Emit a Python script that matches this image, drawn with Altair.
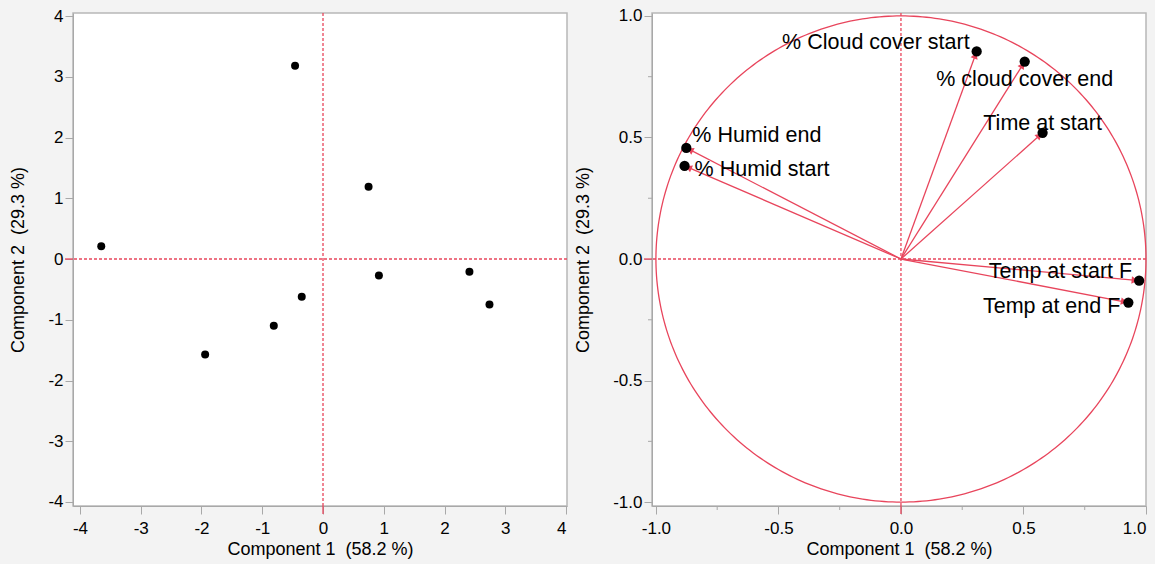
import altair as alt
import pandas as pd

RED = "#e8455c"
GRAY = "#a8a8a8"
FONT = "Liberation Sans"

# ---- Score plot (left) ----
score_x = [-3.65, -0.46, 0.75, 0.92, 2.41, 2.74, -0.35, -0.81, -1.94]
score_y = [0.21, 3.18, 1.19, -0.27, -0.21, -0.75, -0.62, -1.10, -1.57]
left_ticks = [-4, -3, -2, -1, 0, 1, 2, 3, 4]

# ---- Loading plot (right) ----
var_names = ["% Cloud cover start", "% cloud cover end", "Time at start",
             "% Humid end", "% Humid start", "Temp at start F", "Temp at end F"]
load_x = [0.309, 0.505, 0.578, -0.876, -0.883, 0.972, 0.928]
load_y = [0.854, 0.812, 0.519, 0.457, 0.383, -0.089, -0.179]
right_ticks = [-1.0, -0.5, 0.0, 0.5, 1.0]
right_minor = [-0.75, -0.25, 0.25, 0.75]

x_title = "Component 1\u00a0 (58.2 %)"
y_title = "Component 2\u00a0 (29.3 %)"

W, H = 494, 493


def axis(vals, fmt, title, lpad, tpad):
    return alt.Axis(values=vals, format=fmt, title=title, grid=False, tickSize=8,
                    labelPadding=lpad, titlePadding=tpad, domainColor=GRAY, tickColor=GRAY,
                    labelColor="black", titleColor="black", labelFont=FONT, titleFont=FONT,
                    labelFontSize=17, titleFontSize=18, titleFontWeight="normal",
                    labelExpr="replace(datum.label, '\u2212', '-')")


zero_df = pd.DataFrame({"v": [0.0]})

# Left panel
scores = pd.DataFrame({"sx": score_x, "sy": score_y})
lx_scale = alt.Scale(domain=[-4.115, 4.016], nice=False, zero=False)
ly_scale = alt.Scale(domain=[-4.066, 4.05], nice=False, zero=False)

left_pts = alt.Chart(scores).mark_circle(size=64, color="black", opacity=1).encode(
    x=alt.X("sx:Q", scale=lx_scale, axis=axis(left_ticks, "d", x_title, 6, 4)),
    y=alt.Y("sy:Q", scale=ly_scale, axis=axis(left_ticks, "d", y_title, 2, 20)),
)
left_vrule = alt.Chart(zero_df).mark_rule(color=RED, strokeDash=[3, 2], strokeWidth=1.3).encode(x="v:Q")
left_hrule = alt.Chart(zero_df).mark_rule(color=RED, strokeDash=[3, 2], strokeWidth=1.3).encode(y="v:Q")
left_xtick0 = alt.Chart(zero_df).mark_rule(color=RED, strokeWidth=1.3).encode(
    x="v:Q", y=alt.value(H), y2=alt.value(H + 8))
left_ytick0 = alt.Chart(zero_df).mark_rule(color=RED, strokeWidth=1.3).encode(
    y="v:Q", x=alt.value(-8), x2=alt.value(0))

left = alt.layer(left_vrule, left_hrule, left_xtick0, left_ytick0, left_pts).properties(width=W, height=H)

# Right panel
loads = pd.DataFrame({"name": var_names, "lx": load_x, "ly": load_y})
rx_scale = alt.Scale(domain=[-1.016, 1.0], nice=False, zero=False)
ry_scale = alt.Scale(domain=[-1.016, 1.012], nice=False, zero=False)
rX = alt.X("lx:Q", scale=rx_scale, axis=axis(right_ticks, ".1f", x_title, 6, 4))
rY = alt.Y("ly:Q", scale=ry_scale, axis=axis(right_ticks, ".1f", y_title, 2, 20))

r_vrule = alt.Chart(zero_df).mark_rule(color=RED, strokeDash=[3, 2], strokeWidth=1.3).encode(
    x=alt.X("v:Q", scale=rx_scale))
r_hrule = alt.Chart(zero_df).mark_rule(color=RED, strokeDash=[3, 2], strokeWidth=1.3).encode(
    y=alt.Y("v:Q", scale=ry_scale))
r_xtick0 = alt.Chart(zero_df).mark_rule(color=RED, strokeWidth=1.3).encode(
    x="v:Q", y=alt.value(H), y2=alt.value(H + 8))
r_ytick0 = alt.Chart(zero_df).mark_rule(color=RED, strokeWidth=1.3).encode(
    y="v:Q", x=alt.value(-8), x2=alt.value(0))
minor_df = pd.DataFrame({"m": right_minor})
r_xminor = alt.Chart(minor_df).mark_rule(color=GRAY, strokeWidth=1).encode(
    x="m:Q", y=alt.value(H), y2=alt.value(H + 4))
r_yminor = alt.Chart(minor_df).mark_rule(color=GRAY, strokeWidth=1).encode(
    y="m:Q", x=alt.value(-4), x2=alt.value(0))

circle = alt.Chart(alt.sequence(0, 361, 1, as_="deg")).transform_calculate(
    cx="cos(datum.deg*PI/180)", cy="sin(datum.deg*PI/180)"
).mark_line(color=RED, strokeWidth=1.3).encode(
    x=alt.X("cx:Q"), y=alt.Y("cy:Q"), order="deg:Q")

arrows = alt.Chart(loads).transform_calculate(z="0").mark_rule(color=RED, strokeWidth=1.3).encode(
    x="z:Q", y="z:Q", x2="lx:Q", y2="ly:Q")
heads = alt.Chart(loads).transform_calculate(
    ang="(atan2(datum.lx, datum.ly)*180/PI + 360) % 360",
    r="sqrt(datum.lx*datum.lx + datum.ly*datum.ly)",
).transform_calculate(
    hx="datum.lx - 0.022*datum.lx/datum.r",
    hy="datum.ly - 0.022*datum.ly/datum.r",
).mark_point(shape="triangle", filled=True, color=RED, size=55, opacity=1).encode(
    x="hx:Q", y="hy:Q", angle=alt.Angle("ang:Q", scale=None))
r_pts = alt.Chart(loads).mark_circle(size=105, color="black", opacity=1).encode(x=rX, y=rY)

label_specs = [
    ("% Cloud cover start", "right", -7, -2),
    ("% cloud cover end", "center", 0, 24),
    ("Time at start", "center", 0, -3),
    ("% Humid end", "left", 6, -6),
    ("% Humid start", "left", 10, 10),
    ("Temp at start F", "right", -7, -3),
    ("Temp at end F", "right", -8, 10),
]
labels = []
for nm, al, dx, dy in label_specs:
    labels.append(
        alt.Chart(loads).transform_filter(alt.datum.name == nm).mark_text(
            align=al, baseline="alphabetic", dx=dx, dy=dy, font=FONT, fontSize=21.5, color="black"
        ).encode(x="lx:Q", y="ly:Q", text="name:N")
    )

right = alt.layer(r_vrule, r_hrule, r_xtick0, r_ytick0, r_xminor, r_yminor, circle, arrows, heads,
                  r_pts, *labels).properties(width=W, height=H)

chart = alt.hconcat(left, right, spacing=4).properties(
    background="#f3f3f3",
    padding={"left": 9, "top": 6, "right": 5, "bottom": 5},
).configure_view(fill="white", stroke="#b8b8b8", strokeWidth=1.5)

chart.save("out.html", embed_options={"renderer": "svg", "actions": False})
